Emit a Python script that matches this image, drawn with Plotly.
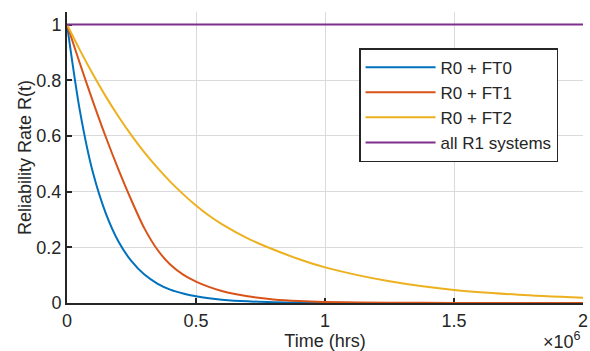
import plotly.graph_objects as go

# time in units of 10^6 hours
t_mhrs = [0, 0.05, 0.1, 0.15, 0.2, 0.25, 0.3, 0.35, 0.4, 0.45, 0.5, 0.55, 0.6,
          0.7, 0.8, 0.9, 1.0, 1.25, 1.5, 1.75, 2.0]

r0_ft0 = [1.0, 0.69, 0.47, 0.323, 0.22, 0.15, 0.102, 0.07, 0.048, 0.034, 0.024, 0.017, 0.012,
          0.006, 0.003, 0.0015, 0.0008, 0.0002, 0.0, 0.0, 0.0]
r0_ft1 = [1.0, 0.86, 0.725, 0.597, 0.478, 0.368, 0.268, 0.192, 0.138, 0.102, 0.077, 0.058, 0.043,
          0.024, 0.013, 0.007, 0.004, 0.001, 0.0003, 0.0001, 0.0]
r0_ft2 = [1.0, 0.908, 0.822, 0.742, 0.669, 0.602, 0.541, 0.486, 0.436, 0.391, 0.35, 0.314, 0.283,
          0.232, 0.192, 0.157, 0.128, 0.078, 0.047, 0.030, 0.019]
t_r1 = [0, 2.0]
r1_all = [1.0, 1.0]

series = [
    ("R0 + FT0", t_mhrs, r0_ft0, "#0072BD"),
    ("R0 + FT1", t_mhrs, r0_ft1, "#D95319"),
    ("R0 + FT2", t_mhrs, r0_ft2, "#EDB120"),
    ("all R1 systems", t_r1, r1_all, "#7E2F8E"),
]

x_tickvals = [0, 0.5, 1.0, 1.5, 2.0]
x_ticktext = ["0", "0.5", "1", "1.5", "2"]
y_tickvals = [0, 0.2, 0.4, 0.6, 0.8, 1.0]
y_ticktext = ["0", "0.2", "0.4", "0.6", "0.8", "1"]

FONT = "Liberation Sans, Arial, Helvetica, sans-serif"
INK = "#262626"
GRID = "#DADADA"

fig = go.Figure()
for name, xs, ys, col in series:
    fig.add_trace(go.Scatter(
        x=[v * 1e6 for v in xs], y=ys, name=name, mode="lines",
        line=dict(color=col, width=2, shape="spline", smoothing=0.8),
    ))

fig.update_layout(
    width=590, height=351,
    margin=dict(l=67, r=7, t=12, b=48, pad=0, autoexpand=False),
    paper_bgcolor="white", plot_bgcolor="white",
    font=dict(family=FONT, size=18, color=INK),
    showlegend=True,
    legend=dict(
        x=0.566, y=0.876, xanchor="left", yanchor="top",
        bgcolor="white", bordercolor=INK, borderwidth=1.5,
        font=dict(size=17, color=INK), itemwidth=70,
        tracegroupgap=0,
    ),
    xaxis=dict(
        range=[0, 2e6], tickvals=[v * 1e6 for v in x_tickvals], ticktext=x_ticktext,
        showgrid=True, gridcolor=GRID, gridwidth=1.2,
        showline=True, linecolor=INK, linewidth=2, mirror=False,
        ticks="inside", ticklen=5, tickwidth=1.5, tickcolor=INK,
        zeroline=False, layer="below traces",
        title=dict(text="Time (hrs)", standoff=6, font=dict(size=18)),
    ),
    yaxis=dict(
        range=[0, 1.045], tickvals=y_tickvals, ticktext=y_ticktext,
        showgrid=True, gridcolor=GRID, gridwidth=1.2,
        showline=True, linecolor=INK, linewidth=2, mirror=False,
        ticks="inside", ticklen=5, tickwidth=1.5, tickcolor=INK,
        zeroline=False, layer="below traces",
        title=dict(text="Reliability Rate R(t)", standoff=0, font=dict(size=18)),
    ),
    annotations=[dict(
        text="\u00d710<sup>6</sup>", xref="paper", yref="paper",
        x=1.0, y=-0.082, xanchor="right", yanchor="top", showarrow=False,
        font=dict(size=18, color=INK),
    )],
)

fig.write_html("out.html", config={"displayModeBar": False},
               post_script="document.body.style.margin='0';")
